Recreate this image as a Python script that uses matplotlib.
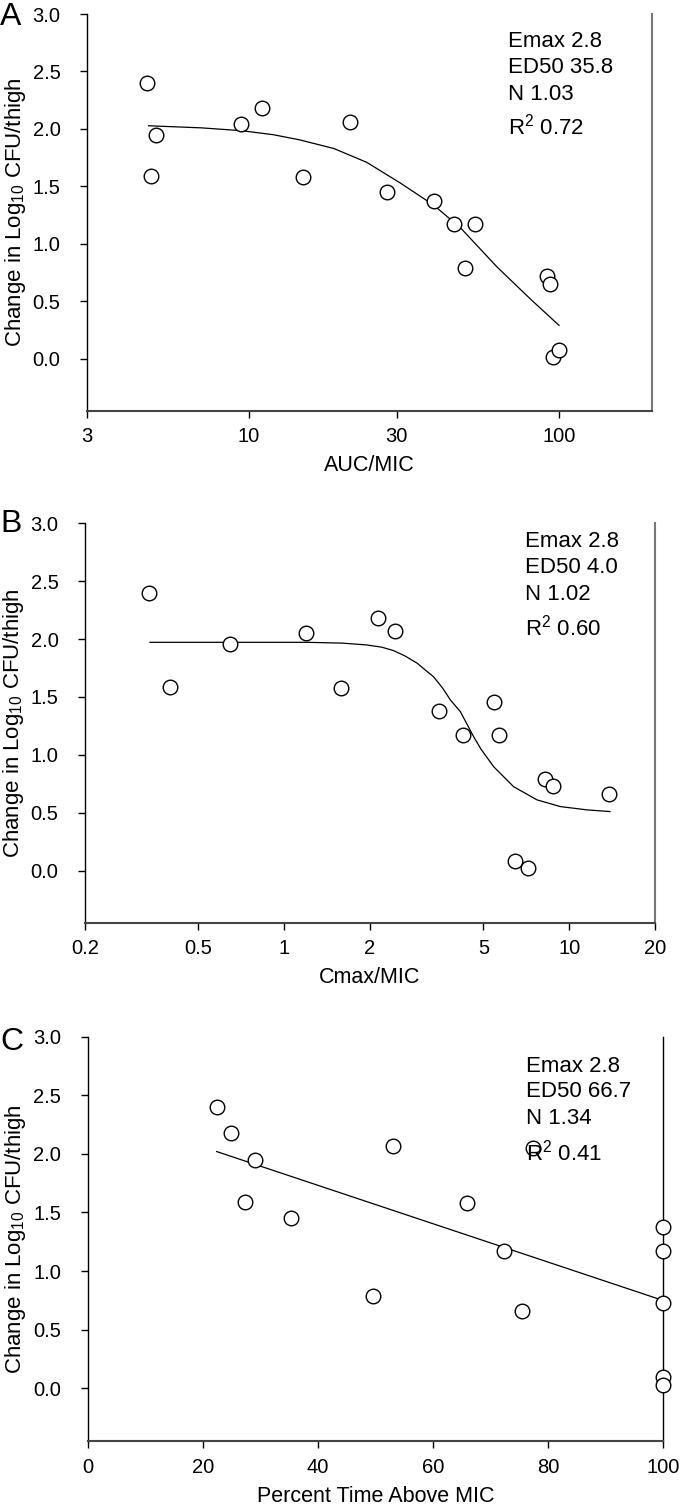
import matplotlib
matplotlib.use('Agg')
import matplotlib.pyplot as plt

plt.rcParams['font.family'] = ['Liberation Sans', 'DejaVu Sans']
plt.rcParams['mathtext.fontset'] = 'custom'
plt.rcParams['mathtext.rm'] = 'Liberation Sans'
plt.rcParams['mathtext.default'] = 'regular'

# panel A: AUC/MIC
auc_x = [4.70, 5.01, 4.84, 9.42, 11.0, 14.9, 21.2, 27.9, 39.6, 45.9, 53.5, 49.8, 91.9, 94.0, 95.5, 100.5]
auc_y = [2.40, 1.95, 1.59, 2.04, 2.18, 1.58, 2.06, 1.45, 1.375, 1.17, 1.17, 0.79, 0.72, 0.655, 0.02, 0.08]
auc_fit_x = [4.74, 7.0, 9.48, 12.0, 14.6, 18.8, 24.0, 30.8, 39.5, 48.2, 63.2, 81.1, 100.2]
auc_fit_y = [2.028, 2.01, 1.985, 1.95, 1.905, 1.83, 1.71, 1.53, 1.337, 1.14, 0.80, 0.52, 0.292]
auc_ticks = [3, 10, 30, 100]
auc_text = ['Emax 2.8', 'ED50 35.8', 'N 1.03', 'R$^2$ 0.72']

# panel B: Cmax/MIC
cmax_x = [0.336, 0.396, 0.644, 1.19, 1.58, 2.13, 2.44, 3.48, 4.25, 5.45, 5.68, 8.24, 8.77, 13.8, 6.44, 7.18]
cmax_y = [2.40, 1.59, 1.96, 2.05, 1.58, 2.185, 2.067, 1.376, 1.174, 1.454, 1.172, 0.795, 0.729, 0.66, 0.086, 0.02]
cmax_fit_x = [0.338, 1.20, 1.60, 1.95, 2.20, 2.42, 2.65, 2.93, 3.10, 3.34, 3.60, 3.83, 4.15, 4.62, 4.90, 5.43,
              6.38, 7.71, 9.31, 11.6, 13.9]
cmax_fit_y = [1.972, 1.972, 1.965, 1.949, 1.93, 1.900, 1.855, 1.791, 1.74, 1.675, 1.575, 1.474, 1.373, 1.157,
              1.05, 0.898, 0.725, 0.611, 0.553, 0.524, 0.510]
cmax_ticks = [0.2, 0.5, 1, 2, 5, 10, 20]
cmax_text = ['Emax 2.8', 'ED50 4.0', 'N 1.02', 'R$^2$ 0.60']

# panel C: percent time above MIC
t_x = [22.4, 24.9, 29.1, 27.3, 35.3, 53.1, 49.6, 65.9, 72.3, 75.5, 100, 100, 100, 100, 100, 77.4]
t_y = [2.40, 2.18, 1.95, 1.59, 1.45, 2.065, 0.79, 1.58, 1.17, 0.66, 1.375, 1.174, 0.73, 0.094, 0.028, 2.05]
t_fit_x = [22.4, 99.9]
t_fit_y = [2.02, 0.75]
t_ticks = [0, 20, 40, 60, 80, 100]
t_text = ['Emax 2.8', 'ED50 66.7', 'N 1.34', 'R$^2$ 0.41']

yticks = [0.0, 0.5, 1.0, 1.5, 2.0, 2.5, 3.0]
ylab = 'Change in Log$_{10}$ CFU/thigh'

W, H = 680, 1507
fig = plt.figure(figsize=(W / 100, H / 100), dpi=100)


def panel(rect, x, y, fx, fy, xlim, xticks, xlab, txt, tpos, letter, lpos, logx, right_col):
    l, t, r, b = rect
    ax = fig.add_axes([l / W, 1 - b / H, (r - l) / W, (b - t) / H])
    ax.plot(fx, fy, '-', color='black', lw=0.9, zorder=2)
    ax.plot(x, y, 'o', ms=10.5, mfc='white', mec='black', mew=1.0, ls='none',
            clip_on=False, zorder=3)
    if logx:
        ax.set_xscale('log')
    ax.set_xlim(xlim)
    ax.set_ylim(-0.45, 3.0)
    ax.set_xticks(xticks)
    ax.set_xticklabels([('%g' % v) for v in xticks])
    ax.minorticks_off()
    ax.set_yticks(yticks)
    ax.set_yticklabels(['%.1f' % v for v in yticks])
    ax.spines['top'].set_visible(False)
    ax.spines['left'].set_linewidth(1.0)
    ax.spines['bottom'].set_linewidth(1.5)
    ax.spines['bottom'].set_color('#444444')
    ax.spines['right'].set_linewidth(1.5 if right_col != 'black' else 1.0)
    ax.spines['right'].set_color(right_col)
    ax.tick_params(axis='both', direction='out', length=5, width=1.0, labelsize=14.5)
    ax.tick_params(axis='y', pad=14)
    ax.tick_params(axis='x', pad=7)
    ax.set_xlabel(xlab, fontsize=15.5)
    ax.xaxis.set_label_coords(0.5, -0.112)
    ax.set_ylabel(ylab, fontsize=16)
    ax.yaxis.set_label_coords(-0.104, 0.5)
    tx, tys = tpos
    for s, ty in zip(txt, tys):
        ax.text(tx, ty, s, transform=ax.transAxes, fontsize=16, va='baseline', zorder=4)
    fig.text(0.0, 1 - lpos / H, letter, fontsize=23, va='baseline')
    return ax


panel((87, 14, 652, 410.7), auc_x, auc_y, auc_fit_x, auc_fit_y, (3, 200), auc_ticks,
      'AUC/MIC', auc_text, (0.745, [0.917, 0.851, 0.783, 0.695]), 'A', 25, True, '#777777')
panel((85, 523.3, 655, 922.7), cmax_x, cmax_y, cmax_fit_x, cmax_fit_y, (0.2, 20), cmax_ticks,
      'Cmax/MIC', cmax_text, (0.772, [0.940, 0.875, 0.808, 0.719]), 'B', 532, True, '#777777')
panel((87.7, 1036.7, 663.4, 1441), t_x, t_y, t_fit_x, t_fit_y, (0, 100), t_ticks,
      'Percent Time Above MIC', t_text, (0.762, [0.913, 0.850, 0.784, 0.694]), 'C', 1050, False, 'black')

fig.savefig('out.png', dpi=100)
